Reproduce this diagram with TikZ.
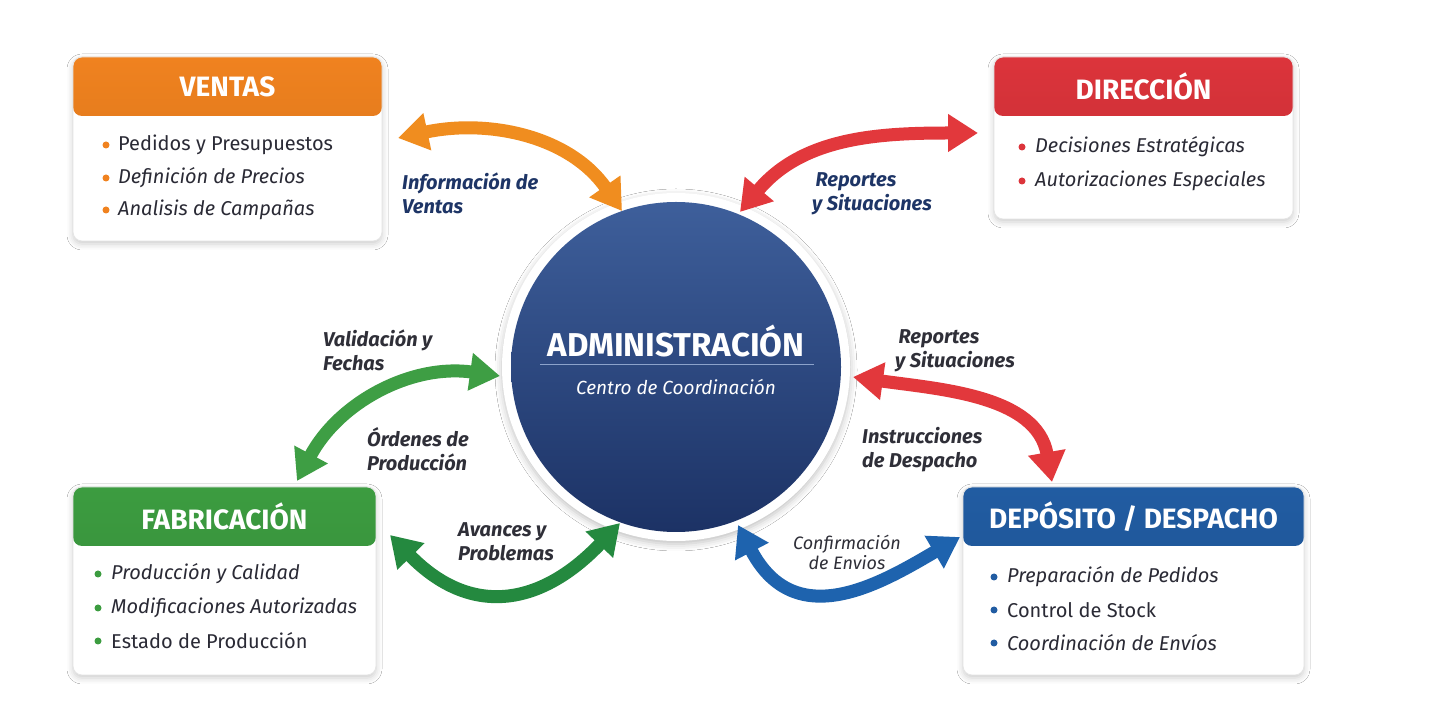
\documentclass[tikz,border=0pt]{standalone}
\usepackage{fontspec}
\setmainfont{Fira Sans}
\usetikzlibrary{arrows.meta,shadows.blur}

\definecolor{ventasc}{HTML}{F0821F}
\definecolor{direcc}{HTML}{DC343B}
\definecolor{fabric}{HTML}{3C9C40}
\definecolor{deposc}{HTML}{215CA2}
\definecolor{flowor}{HTML}{F08D1F}
\definecolor{flowrd}{HTML}{E2383C}
\definecolor{flowgr}{HTML}{3E9E44}
\definecolor{flowdg}{HTML}{24893F}
\definecolor{flowbl}{HTML}{1E63AE}
\definecolor{hubtop}{HTML}{3E5F9B}
\definecolor{hubbot}{HTML}{1C3265}
\definecolor{hubrule}{HTML}{8CA2CB}
\definecolor{ink}{HTML}{2A2A35}
\definecolor{navy}{HTML}{1E3566}
\definecolor{graytx}{HTML}{2F2F38}

\begin{document}
\begin{tikzpicture}[x=1pt, y=1pt,
  unitbox/.style={draw=black!10, line width=0.8pt, fill=white, rounded corners=9pt,
    blur shadow={shadow xshift=0pt, shadow yshift=-3pt, shadow blur radius=6pt, shadow opacity=20},
    path picture={\shade[top color=#1, bottom color=#1!88!black]
      (path picture bounding box.north west) rectangle ([yshift=-59pt]path picture bounding box.north east);}},
  title/.style={text=white, font=\fontsize{28}{30}\selectfont\bfseries},
  item/.style={anchor=west, inner sep=0pt, text=ink, font=\fontsize{20}{24}\selectfont},
  bul/.style={circle, fill=#1, inner sep=0pt, minimum size=7pt},
  flow/.style={line width=13pt, draw=#1, {Triangle[length=30pt,width=36pt]}-{Triangle[length=30pt,width=36pt]}},
  tag/.style={anchor=west, inner sep=0pt, align=left, font=\fontsize{20}{24}\selectfont\bfseries\itshape}
]
\fill[white] (0,0) rectangle (1440,712);
\useasboundingbox (0,0) rectangle (1440,712);

% boxes
\node[unitbox=ventasc, minimum width=309pt, minimum height=184pt] (ventas) at (227.5,563) {};
\node[title] (ventas-t) at ([yshift=-30pt]ventas.north) {VENTAS};
\node[bul=ventasc] (v1b) at (106,567) {};
\node[item] (v1) at (118,567) {Pedidos y Presupuestos};
\node[bul=ventasc] (v2b) at (106,534) {};
\node[item] (v2) at (118,534) {\itshape Definición de Precios};
\node[bul=ventasc] (v3b) at (106,502) {};
\node[item] (v3) at (118,502) {\itshape Analisis de Campañas};

\node[unitbox=direcc, minimum width=299pt, minimum height=162pt] (direccion) at (1143.5,574) {};
\node[title] (direccion-t) at ([yshift=-30pt]direccion.north) {DIRECCIÓN};
\node[bul=direcc] (d1b) at (1022,565) {};
\node[item] (d1) at (1035,565) {\itshape Decisiones Estratégicas};
\node[bul=direcc] (d2b) at (1022,531) {};
\node[item] (d2) at (1035,531) {\itshape Autorizaciones Especiales};

\node[unitbox=fabric, minimum width=303pt, minimum height=188pt] (fabricacion) at (224.5,131) {};
\node[title] (fabricacion-t) at ([yshift=-30pt]fabricacion.north) {FABRICACIÓN};
\node[bul=fabric] (f1b) at (98,138) {};
\node[item] (f1) at (111,138) {\itshape Producción y Calidad};
\node[bul=fabric] (f2b) at (98,104) {};
\node[item] (f2) at (111,104) {\itshape Modificaciones Autorizadas};
\node[bul=fabric] (f3b) at (98,71) {};
\node[item] (f3) at (111,71) {Estado de Producción};

\node[unitbox=deposc, minimum width=341pt, minimum height=188pt] (deposito) at (1133.5,131) {};
\node[title] (deposito-t) at ([yshift=-30pt]deposito.north) {DEPÓSITO / DESPACHO};
\node[bul=deposc] (p1b) at (994,135) {};
\node[item] (p1) at (1007,135) {\itshape Preparación de Pedidos};
\node[bul=deposc] (p2b) at (994,102) {};
\node[item] (p2) at (1007,102) {Control de Stock};
\node[bul=deposc] (p3b) at (994,69) {};
\node[item] (p3) at (1007,69) {\itshape Coordinación de Envíos};

% centre
\node[circle, fill=white, minimum size=348pt,
  blur shadow={shadow xshift=0pt, shadow yshift=-3pt, shadow blur radius=7pt, shadow opacity=25}] (ring) at (676,345) {};
\node[circle, top color=hubtop, bottom color=hubbot, minimum size=330pt] (admin) at (ring) {};
\node[text=white, font=\fontsize{33}{36}\selectfont\bfseries] (admin-t) at (676,371) {ADMINISTRACIÓN};
\draw[hubrule, line width=1pt] (540,347) -- (814,347);
\node[text=white, font=\fontsize{19}{22}\selectfont\itshape] (admin-s) at (676,325) {Centro de Coordinación};

% arrow ends
\coordinate (ov) at (398,574);
\coordinate (oa) at (622,501);
\coordinate (ra) at (740,500);
\coordinate (rd) at (978,579);
\coordinate (ga) at (500,336);
\coordinate (gf) at (297,231);
\coordinate (ba) at (853,335);
\coordinate (bd) at (1052,230);
\coordinate (pf) at (390,177);
\coordinate (pa) at (620,189);
\coordinate (ea) at (738,187);
\coordinate (ed) at (960,175);

\draw[flow=flowor] (ov) to[out=12, in=125] (oa);
\draw[flow=flowrd] (ra) to[out=50, in=180] (rd);
\draw[flow=flowgr] (ga) to[out=172, in=62] (gf);
\draw[flow=flowrd] (ba) to[out=-8, in=100] (bd);
\draw[flow=flowdg] (pf) .. controls (470,95) and (540,105) .. (pa);
\draw[flow=flowbl] (ea) .. controls (795,78) and (880,128) .. (ed);

% labels
\node[tag, text=navy] (l1) at (402,519) {Información de\\Ventas};
\node[tag, text=navy] (l2) at (812,518) {\,Reportes\\y Situaciones};
\node[tag, text=graytx] (l3) at (323,362) {Validación y\\Fechas};
\node[tag, text=graytx] (l4) at (367,263) {Órdenes de\\Producción};
\node[tag, text=graytx] (l5) at (895,361) {\,Reportes\\y Situaciones};
\node[tag, text=graytx] (l6) at (862,262) {Instrucciones\\de Despacho};
\node[tag, text=graytx] (l7) at (458,170) {Avances y\\Problemas};
\node[inner sep=0pt, align=center, text=graytx, font=\fontsize{18}{20}\selectfont\itshape] (l8) at (847,160) {Confirmación\\de Envios};
\end{tikzpicture}
\end{document}
